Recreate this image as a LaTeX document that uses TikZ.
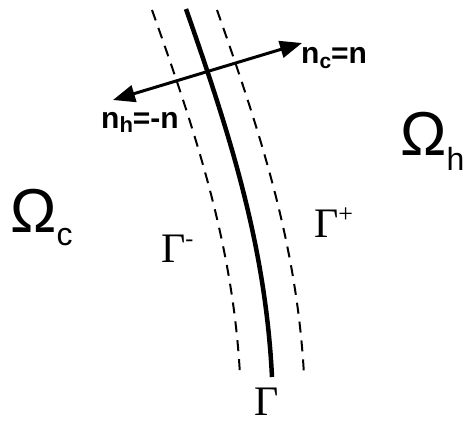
\documentclass[tikz,border=0pt]{standalone}
\usepackage{fontspec}
\setmainfont{Liberation Serif}
\setsansfont{Liberation Sans}
\usepackage{tikz}
\usetikzlibrary{arrows.meta, positioning}

\begin{document}
\begin{tikzpicture}[x=1pt, y=-1pt,
    iface/.style={line width=4.5pt},
    offset/.style={line width=2pt, dash pattern=on 11pt off 8pt},
    normalvec/.style={line width=3pt, {Triangle[length=22pt,width=17pt]}-{Triangle[length=22pt,width=17pt]}},
    regionlabel/.style={inner sep=0pt, anchor=base west, font=\sffamily\fontsize{62}{62}\selectfont},
    veclabel/.style={inner sep=0pt, anchor=base west, font=\sffamily\bfseries\fontsize{30}{30}\selectfont},
    gammalabel/.style={inner sep=0pt, anchor=base west, font=\rmfamily\fontsize{42}{42}\selectfont}]

    \useasboundingbox (0,0) rectangle (466,424);

    % Interface Gamma and the two shifted copies
    \draw[iface] (186,9) .. controls (231.5,139) and (265.5,247) .. (272,377);
    \draw[offset] (152,10) .. controls (198,139) and (233,247) .. (240,375);
    \draw[offset] (217,10) .. controls (262.5,139) and (297,247) .. (304,375);

    % Normal vectors
    \coordinate (nh) at (113,100);
    \coordinate (nc) at (302,43);
    \draw[normalvec] (nh) -- (nc);
    \node[veclabel] (nclabel) at (301,63) {n\raisebox{-5pt}{\fontsize{21}{21}\selectfont c}=n};
    \node[veclabel] (nhlabel) at (101,128) {n\raisebox{-4pt}{\fontsize{22}{22}\selectfont h}=-n};

    % Regions
    \node[regionlabel] (omegah) at (400,155) {Ω\raisebox{-15pt}{\fontsize{32}{32}\selectfont h}};
    \node[regionlabel] (omegac) at (10,232) {Ω\raisebox{-13pt}{\fontsize{32}{32}\selectfont c}};

    % Labels for the curves
    \node[gammalabel] (gminus) at (161,262) {Γ\raisebox{16pt}{\fontsize{24}{24}\selectfont -}};
    \node[gammalabel] (gplus) at (314,237) {Γ\raisebox{15pt}{\fontsize{26}{26}\selectfont +}};
    \node[gammalabel] (gamma) at (254,415) {Γ};

\end{tikzpicture}
\end{document}
